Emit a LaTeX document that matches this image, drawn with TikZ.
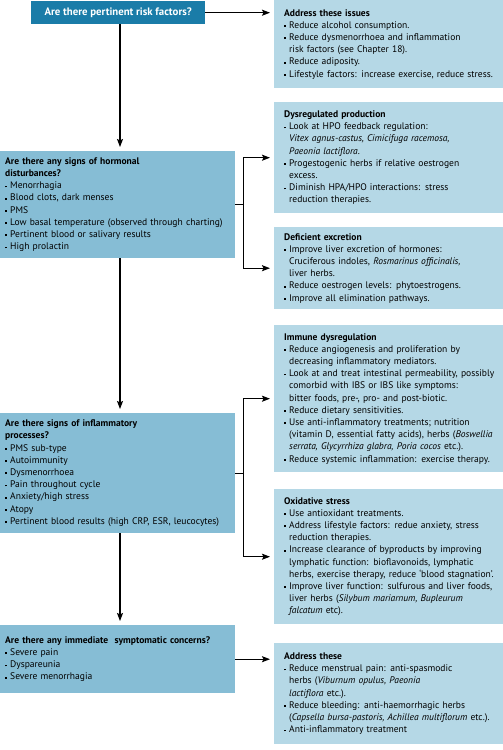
\documentclass[tikz,border=0pt]{standalone}
\usepackage{fontspec}
\setmainfont{PT Sans}
\usetikzlibrary{arrows.meta}
\definecolor{topblue}{HTML}{1A7CA8}
\definecolor{midblue}{HTML}{86BDD5}
\definecolor{lightblue}{HTML}{B5D8E6}
\newcommand{\bu}{\makebox[5pt][l]{\raisebox{0.28ex}{\rule{1.8pt}{1.8pt}}}}
\newcommand{\ind}{\hspace*{5pt}}
\tikzset{
 base/.style={anchor=north west, align=left, font=\fontsize{9.55}{12.2}\selectfont, inner ysep=0pt},
 qtop/.style={anchor=north west, fill=topblue, text=white, align=center, font=\fontsize{10.8}{12.2}\selectfont\bfseries, minimum width=174pt, minimum height=23pt, inner xsep=0pt, inner ysep=0pt},
 qbox/.style={base, fill=midblue, text width=225pt, inner xsep=5pt},
 abox/.style={base, fill=lightblue, text width=219pt, inner xsep=10pt},
 arr/.style={line width=1.1pt, -{Stealth[length=8pt,width=6pt,inset=1.5pt]}, shorten >=4pt},
 ln/.style={line width=1.1pt}
}
\begin{document}
\begin{tikzpicture}[x=1pt,y=-1pt]
\useasboundingbox (0,0) rectangle (503,750);
\coordinate (spine) at (120,0);
% questions
\node[qtop] (q1) at (31,1) {Are there pertinent risk factors?};
\node[qbox, minimum height=107pt] (q2) at (0,151) {\textbf{Are there any signs of hormonal}\\
\textbf{disturbances?}\\
\bu Menorrhagia\\
\bu Blood clots, dark menses\\
\bu PMS\\
\bu Low basal temperature (observed through charting)\\
\bu Pertinent blood or salivary results\\
\bu High prolactin};
\node[qbox, minimum height=120pt] (q3) at (0,413) {\textbf{Are there signs of inflammatory}\\
\textbf{processes?}\\
\bu PMS sub-type\\
\bu Autoimmunity\\
\bu Dysmenorrhoea\\
\bu Pain throughout cycle\\
\bu Anxiety/high stress\\
\bu Atopy\\
\bu Pertinent blood results (high CRP, ESR, leucocytes)};
\node[qbox, minimum height=68pt] (q4) at (0,625) {\textbf{Are there any immediate\ \ symptomatic concerns?}\\
\bu Severe pain\\
\bu Dyspareunia\\
\bu Severe menorrhagia};
% answers
\node[abox, minimum height=88pt] (a1) at (274,0) {\textbf{Address these issues}\\
\bu Reduce alcohol consumption.\\
\bu Reduce dysmenorrhoea and inflammation\\
\ind risk factors (see Chapter 18).\\
\bu Reduce adiposity.\\
\bu Lifestyle factors: increase exercise, reduce stress.};
\node[abox, minimum height=111pt] (a2) at (274,102) {\textbf{Dysregulated production}\\
\bu Look at HPO feedback regulation:\\
\ind\textit{Vitex agnus-castus, Cimicifuga racemosa,}\\
\ind\textit{Paeonia lactiflora}.\\
\bu Progestogenic herbs if relative oestrogen\\
\ind excess.\\
\bu Diminish HPA/HPO interactions: stress\\
\ind reduction therapies.};
\node[abox, minimum height=82pt] (a3) at (274,227) {\textbf{Deficient excretion}\\
\bu Improve liver excretion of hormones:\\
\ind Cruciferous indoles, \textit{Rosmarinus officinalis,}\\
\ind liver herbs.\\
\bu Reduce oestrogen levels: phytoestrogens.\\
\bu Improve all elimination pathways.};
\node[abox, minimum height=147pt] (a4) at (274,325) {\textbf{Immune dysregulation}\\
\bu Reduce angiogenesis and proliferation by\\
\ind decreasing inflammatory mediators.\\
\bu Look at and treat intestinal permeability, possibly\\
\ind comorbid with IBS or IBS like symptoms:\\
\ind bitter foods, pre-, pro- and post-biotic.\\
\bu Reduce dietary sensitivities.\\
\bu Use anti-inflammatory treatments; nutrition\\
\ind (vitamin D, essential fatty acids), herbs (\textit{Boswellia}\\
\ind\textit{serrata, Glycyrrhiza glabra, Poria cocos} etc.).\\
\bu Reduce systemic inflammation: exercise therapy.};
\node[abox, minimum height=135pt] (a5) at (274,489) {\textbf{Oxidative stress}\\
\bu Use antioxidant treatments.\\
\bu Address lifestyle factors: redue anxiety, stress\\
\ind reduction therapies.\\
\bu Increase clearance of byproducts by improving\\
\ind lymphatic function: bioflavonoids, lymphatic\\
\ind herbs, exercise therapy, reduce `blood stagnation'.\\
\bu Improve liver function: sulfurous and liver foods,\\
\ind liver herbs (\textit{Silybum mariarnum, Bupleurum}\\
\ind\textit{falcatum} etc).};
\node[abox, minimum height=101pt] (a6) at (274,643) {\textbf{Address these}\\
\bu Reduce menstrual pain: anti-spasmodic\\
\ind herbs (\textit{Viburnum opulus, Paeonia}\\
\ind\textit{lactiflora} etc.).\\
\bu Reduce bleeding: anti-haemorrhagic herbs\\
\ind (\textit{Capsella bursa-pastoris, Achillea multiflorum} etc.).\\
\bu Anti-inflammatory treatment};
% connectors
\draw[arr] (q1.east) -- (a1.west |- q1.east);
\draw[arr] (q1.south -| spine) -- (q2.north -| spine);
\draw[arr] (q2.south -| spine) -- (q3.north -| spine);
\draw[arr] (q3.south -| spine) -- (q4.north -| spine);
\draw[ln] (q2.east) -- ++(8,0) coordinate (j2);
\draw[arr] (j2) |- (a2.west);
\draw[arr] (j2) |- (a3.west);
\draw[ln] (q3.east) -- ++(8,0) coordinate (j3);
\draw[arr] (j3) |- (a4.west);
\draw[arr] (j3) |- (a5.west);
\draw[arr] (q4.east) -- (a6.west |- q4.east);
\end{tikzpicture}
\end{document}
